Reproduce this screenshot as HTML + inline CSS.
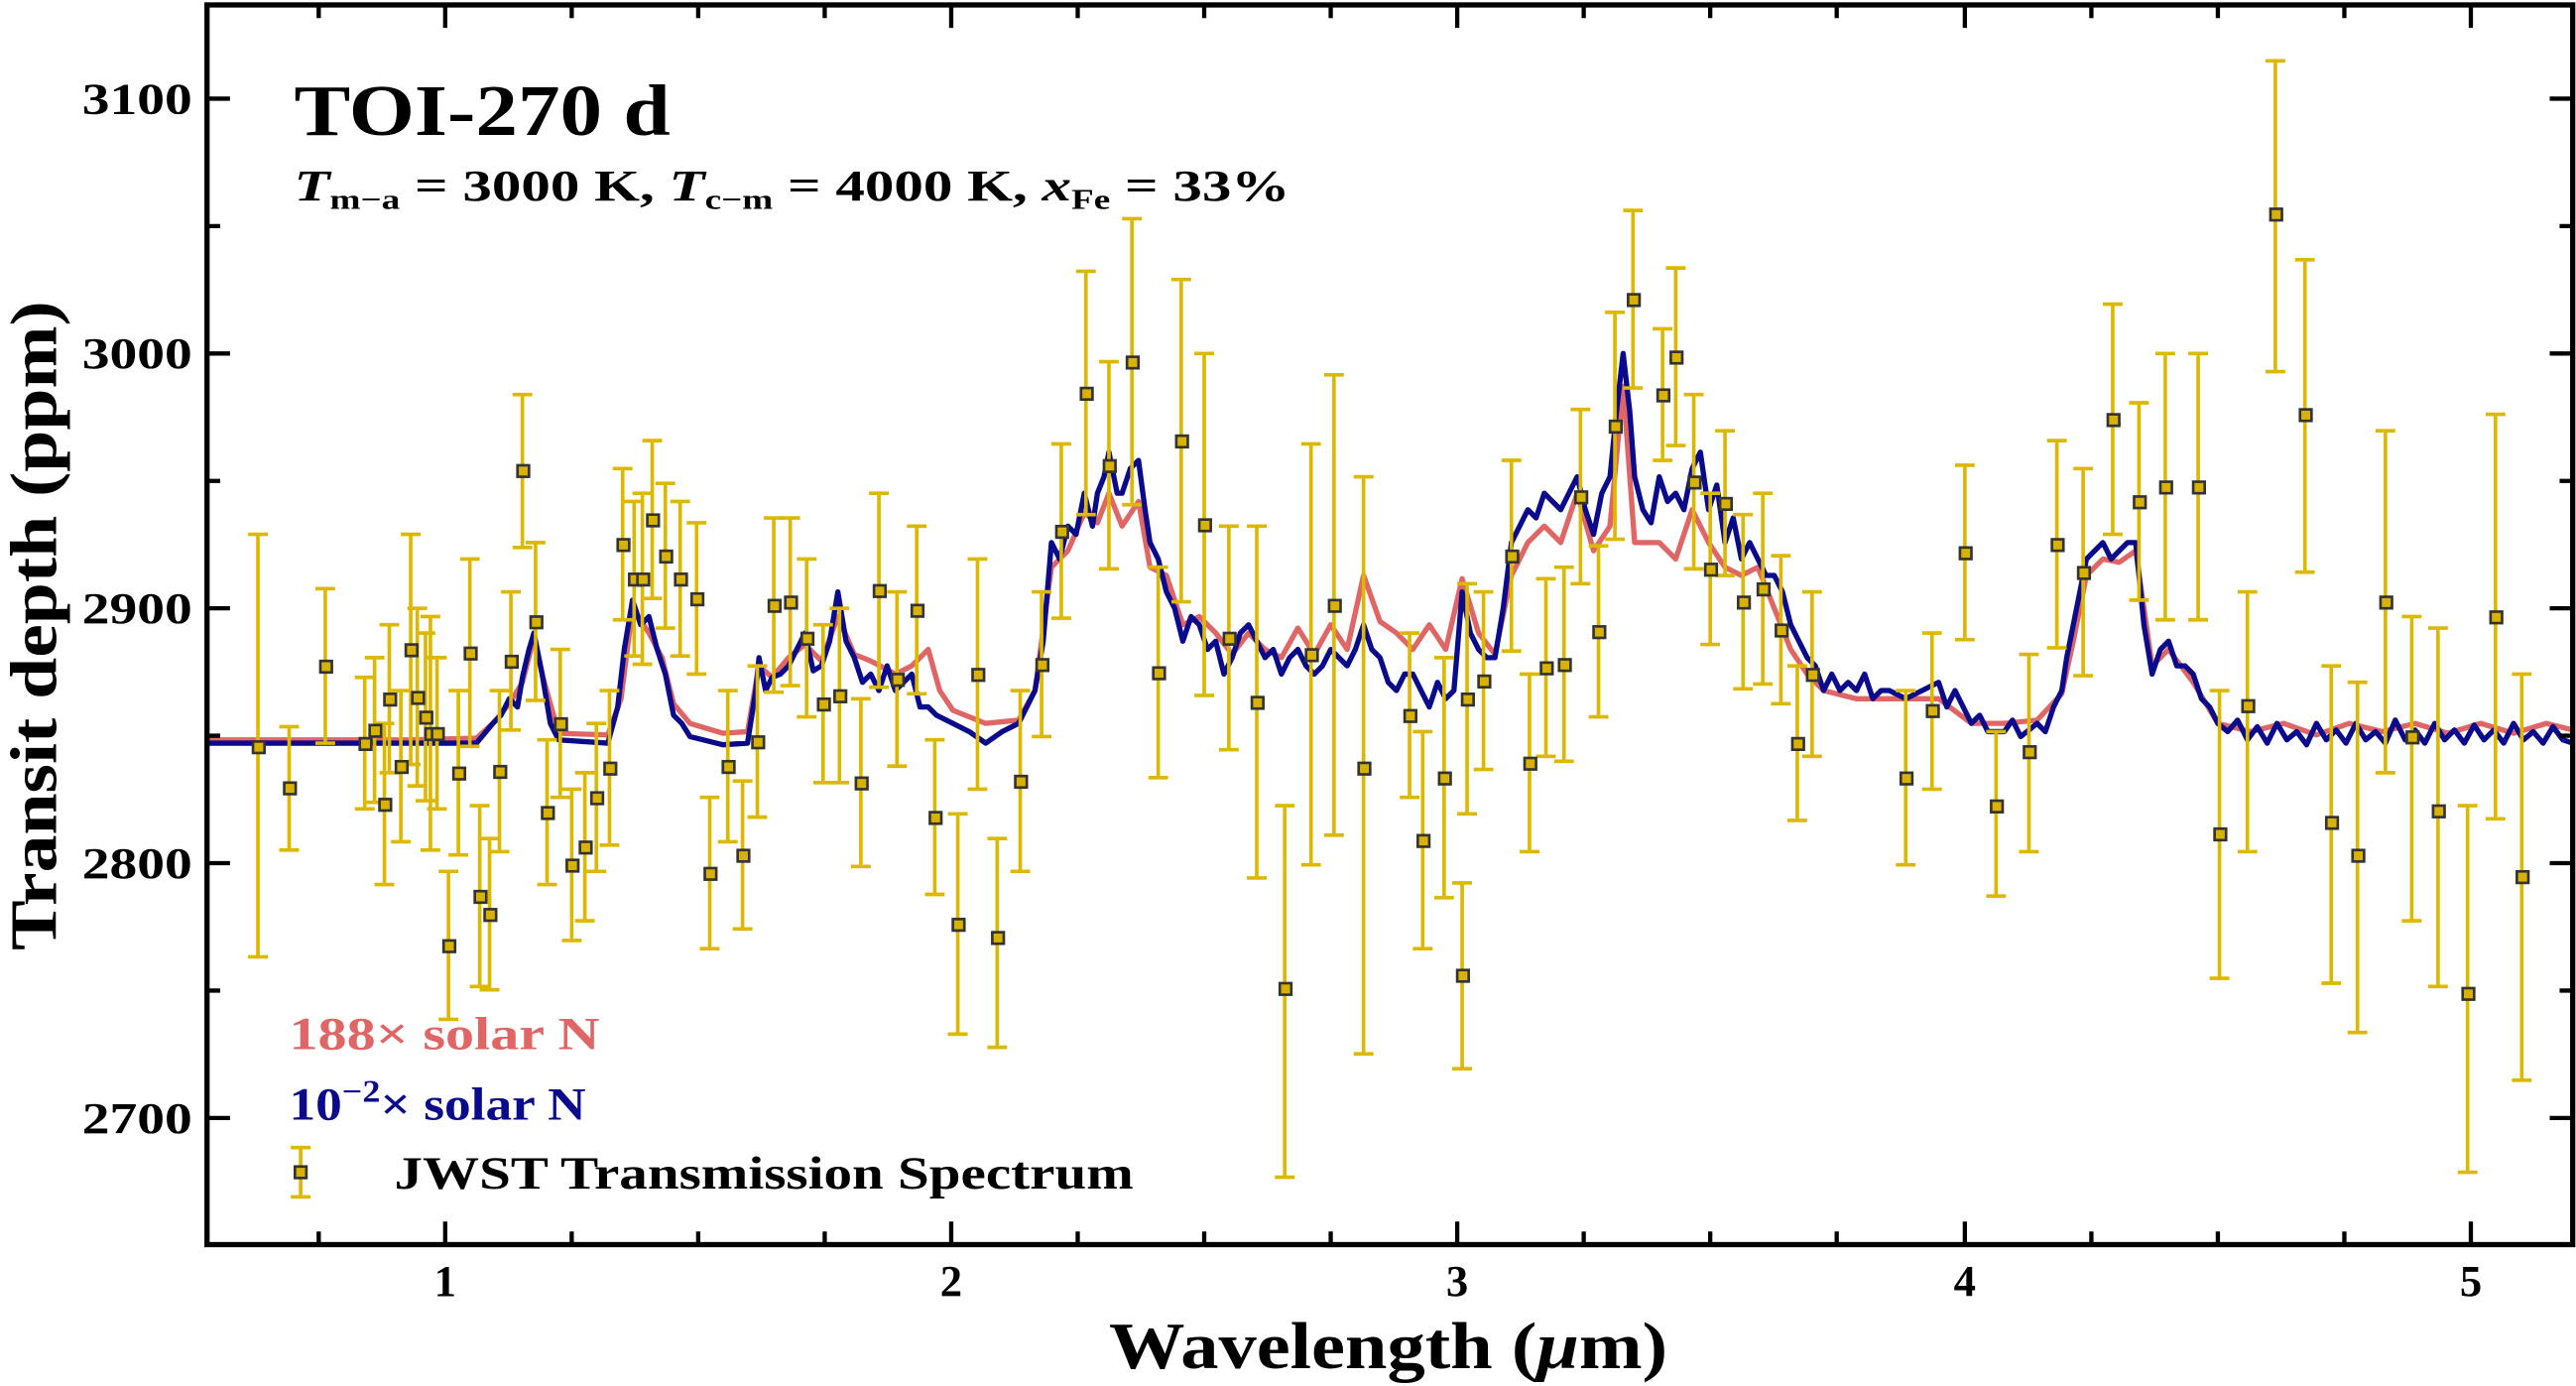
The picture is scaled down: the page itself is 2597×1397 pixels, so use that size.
<!DOCTYPE html>
<html><head><meta charset="utf-8"><style>html,body{margin:0;padding:0;background:#fff}svg{display:block}</style></head>
<body>
<svg xmlns="http://www.w3.org/2000/svg" width="2597" height="1397" viewBox="0 0 1568 843" preserveAspectRatio="none" font-family="'Liberation Serif', serif">
<rect width="1568" height="843" fill="#fff"/>
<polyline fill="none" stroke="#E06666" stroke-width="3.2" stroke-linejoin="round" points="126,450 250,450 290,449 300,440 310,428 318,415 325,388 330,410 340,446 370,447 378,425 385,370 395,385 403,400 410,428 420,440 440,446 455,445 462,405 470,412 480,400 490,392 500,402 510,375 520,398 530,402 545,410 555,405 565,395 572,420 580,432 600,440 620,438 630,420 640,345 650,335 660,312 668,318 675,300 683,320 693,305 700,345 710,350 720,380 730,375 740,385 750,398 760,385 770,395 780,400 790,382 800,398 810,380 820,395 830,350 840,378 850,385 860,395 870,380 880,395 890,352 900,385 910,398 920,350 930,330 940,320 950,330 960,300 970,335 980,320 988,235 995,330 1010,330 1020,340 1030,310 1040,330 1050,345 1060,350 1070,345 1080,370 1090,395 1100,410 1110,420 1130,425 1150,425 1180,425 1200,440 1220,440 1240,438 1255,422 1262,390 1270,350 1280,340 1290,342 1300,335 1310,405 1320,395 1335,415 1350,440 1370,445 1390,440 1410,447 1430,440 1450,445 1470,440 1490,446 1510,440 1530,446 1550,440 1566,444"/>
<polyline fill="none" stroke="#0A0A8C" stroke-width="3.2" stroke-linejoin="round" points="126,452 250,452 290,452 300,440 305,435 310,425 315,430 318,412 322,395 325,385 330,410 335,440 340,450 370,452 376,430 380,395 385,365 390,380 395,375 400,395 405,410 410,435 415,440 420,448 440,453 455,452 460,420 462,400 466,420 470,412 475,410 480,405 485,395 490,385 495,408 500,405 505,390 510,360 515,390 520,400 525,415 530,410 535,420 540,405 545,420 550,415 555,410 560,430 565,430 570,435 580,440 590,445 600,452 610,445 620,440 625,430 630,420 635,390 640,330 645,340 650,320 655,325 660,300 665,320 668,300 672,290 675,275 680,300 683,300 688,285 693,280 697,310 700,330 705,340 710,360 715,370 720,390 725,375 730,380 735,395 740,390 745,410 750,400 755,385 760,380 765,390 770,400 775,395 780,410 785,400 790,395 795,405 800,410 805,405 810,395 815,400 820,405 825,395 830,380 835,395 840,400 845,415 850,420 855,410 860,410 865,420 870,430 875,415 880,425 885,420 890,360 895,385 900,395 905,400 910,400 915,370 920,330 925,320 930,310 935,315 940,300 945,305 950,310 955,300 960,290 965,310 970,325 975,300 980,290 984,250 988,215 992,250 995,290 1000,310 1005,318 1010,290 1015,305 1020,300 1025,310 1030,285 1035,275 1040,310 1045,295 1050,330 1055,315 1060,340 1065,330 1070,340 1075,350 1080,350 1085,360 1090,380 1095,390 1100,400 1105,405 1110,420 1115,410 1120,420 1125,415 1130,420 1135,410 1140,425 1145,420 1150,420 1160,425 1170,420 1180,415 1185,430 1190,420 1200,440 1205,435 1210,445 1220,445 1225,438 1230,448 1240,440 1245,445 1250,430 1255,420 1258,400 1262,380 1266,360 1270,340 1275,335 1280,330 1285,340 1290,335 1295,330 1300,330 1305,380 1310,410 1315,395 1320,390 1325,405 1330,405 1335,410 1340,425 1345,430 1350,440 1356,445 1362,438 1368,450 1374,442 1380,452 1386,440 1392,450 1398,445 1404,453 1410,440 1416,450 1422,444 1428,452 1434,440 1440,450 1446,445 1452,452 1458,438 1464,450 1470,444 1476,452 1482,440 1488,450 1494,444 1500,452 1506,441 1512,450 1518,444 1524,452 1530,440 1536,450 1542,445 1548,452 1554,442 1560,450 1566,452"/>
<g stroke="#DDB800" stroke-width="2.2" fill="none">
<path d="M157 325V582M151 325h12M151 582h12"/>
<path d="M176 442V517M170 442h12M170 517h12"/>
<path d="M198 358V452M192 358h12M192 452h12"/>
<path d="M222 412V492M216 412h12M216 492h12"/>
<path d="M228 400V488M222 400h12M222 488h12"/>
<path d="M234 440V538M228 440h12M228 538h12"/>
<path d="M237 380V470M231 380h12M231 470h12"/>
<path d="M244 420V512M238 420h12M238 512h12"/>
<path d="M250 325V465M244 325h12M244 465h12"/>
<path d="M254 370V478M248 370h12M248 478h12"/>
<path d="M259 385V487M253 385h12M253 487h12"/>
<path d="M262 375V517M256 375h12M256 517h12"/>
<path d="M266 400V492M260 400h12M260 492h12"/>
<path d="M273 530V620M267 530h12M267 620h12"/>
<path d="M279 420V520M273 420h12M273 520h12"/>
<path d="M286 340V454M280 340h12M280 454h12"/>
<path d="M292 490V600M286 490h12M286 600h12"/>
<path d="M298 510V602M292 510h12M292 602h12"/>
<path d="M304 420V518M298 420h12M298 518h12"/>
<path d="M311 360V444M305 360h12M305 444h12"/>
<path d="M318 240V333M312 240h12M312 333h12"/>
<path d="M326 330V426M320 330h12M320 426h12"/>
<path d="M333 450V538M327 450h12M327 538h12"/>
<path d="M341 395V485M335 395h12M335 485h12"/>
<path d="M348 480V572M342 480h12M342 572h12"/>
<path d="M356 470V560M350 470h12M350 560h12"/>
<path d="M363 440V530M357 440h12M357 530h12"/>
<path d="M371 420V514M365 420h12M365 514h12"/>
<path d="M379 285V377M373 285h12M373 377h12"/>
<path d="M386 305V399M380 305h12M380 399h12"/>
<path d="M391 300V404M385 300h12M385 404h12"/>
<path d="M397 268V364M391 268h12M391 364h12"/>
<path d="M405 294V382M399 294h12M399 382h12"/>
<path d="M414 305V399M408 305h12M408 399h12"/>
<path d="M424 318V410M418 318h12M418 410h12"/>
<path d="M432 485V577M426 485h12M426 577h12"/>
<path d="M443 420V512M437 420h12M437 512h12"/>
<path d="M452 475V565M446 475h12M446 565h12"/>
<path d="M461 405V497M455 405h12M455 497h12"/>
<path d="M471 315V421M465 315h12M465 421h12"/>
<path d="M481 315V417M475 315h12M475 417h12"/>
<path d="M491 340V436M485 340h12M485 436h12"/>
<path d="M501 380V476M495 380h12M495 476h12"/>
<path d="M511 370V476M505 370h12M505 476h12"/>
<path d="M524 425V527M518 425h12M518 527h12"/>
<path d="M535 300V418M529 300h12M529 418h12"/>
<path d="M546 360V466M540 360h12M540 466h12"/>
<path d="M558 320V422M552 320h12M552 422h12"/>
<path d="M569 450V544M563 450h12M563 544h12"/>
<path d="M583 495V629M577 495h12M577 629h12"/>
<path d="M595 340V480M589 340h12M589 480h12"/>
<path d="M607 510V637M601 510h12M601 637h12"/>
<path d="M621 420V530M615 420h12M615 530h12"/>
<path d="M634 360V448M628 360h12M628 448h12"/>
<path d="M646 270V376M640 270h12M640 376h12"/>
<path d="M661 165V313M655 165h12M655 313h12"/>
<path d="M675 220V346M669 220h12M669 346h12"/>
<path d="M689 133V307M683 133h12M683 307h12"/>
<path d="M705 345V473M699 345h12M699 473h12"/>
<path d="M719 170V366M713 170h12M713 366h12"/>
<path d="M733 215V423M727 215h12M727 423h12"/>
<path d="M748 320V456M742 320h12M742 456h12"/>
<path d="M765 320V534M759 320h12M759 534h12"/>
<path d="M782 490V716M776 490h12M776 716h12"/>
<path d="M798 270V526M792 270h12M792 526h12"/>
<path d="M812 228V508M806 228h12M806 508h12"/>
<path d="M830 290V641M824 290h12M824 641h12"/>
<path d="M858 385V485M852 385h12M852 485h12"/>
<path d="M866 445V577M860 445h12M860 577h12"/>
<path d="M879 400V546M873 400h12M873 546h12"/>
<path d="M890 537V650M884 537h12M884 650h12"/>
<path d="M893 355V495M887 355h12M887 495h12"/>
<path d="M903 360V468M897 360h12M897 468h12"/>
<path d="M920 280V396M914 280h12M914 396h12"/>
<path d="M931 410V518M925 410h12M925 518h12"/>
<path d="M941 352V460M935 352h12M935 460h12"/>
<path d="M952 345V463M946 345h12M946 463h12"/>
<path d="M962 249V355M956 249h12M956 355h12"/>
<path d="M973 332V436M967 332h12M967 436h12"/>
<path d="M983 190V328M977 190h12M977 328h12"/>
<path d="M994 128V236M988 128h12M988 236h12"/>
<path d="M1012 200V280M1006 200h12M1006 280h12"/>
<path d="M1020 163V271M1014 163h12M1014 271h12"/>
<path d="M1031 240V346M1025 240h12M1025 346h12"/>
<path d="M1041 300V392M1035 300h12M1035 392h12"/>
<path d="M1050 262V350M1044 262h12M1044 350h12"/>
<path d="M1061 313V419M1055 313h12M1055 419h12"/>
<path d="M1073 300V416M1067 300h12M1067 416h12"/>
<path d="M1084 338V428M1078 338h12M1078 428h12"/>
<path d="M1094 405V499M1088 405h12M1088 499h12"/>
<path d="M1103 360V460M1097 360h12M1097 460h12"/>
<path d="M1160 420V526M1154 420h12M1154 526h12"/>
<path d="M1176 385V480M1170 385h12M1170 480h12"/>
<path d="M1196 283V389M1190 283h12M1190 389h12"/>
<path d="M1215 445V545M1209 445h12M1209 545h12"/>
<path d="M1235 398V518M1229 398h12M1229 518h12"/>
<path d="M1252 268V394M1246 268h12M1246 394h12"/>
<path d="M1268 285V411M1262 285h12M1262 411h12"/>
<path d="M1286 185V325M1280 185h12M1280 325h12"/>
<path d="M1302 245V365M1296 245h12M1296 365h12"/>
<path d="M1318 215V377M1312 215h12M1312 377h12"/>
<path d="M1338 215V377M1332 215h12M1332 377h12"/>
<path d="M1351 420V595M1345 420h12M1345 595h12"/>
<path d="M1368 360V518M1362 360h12M1362 518h12"/>
<path d="M1385 37V226M1379 37h12M1379 226h12"/>
<path d="M1403 158V348M1397 158h12M1397 348h12"/>
<path d="M1419 405V598M1413 405h12M1413 598h12"/>
<path d="M1435 415V628M1429 415h12M1429 628h12"/>
<path d="M1452 262V470M1446 262h12M1446 470h12"/>
<path d="M1468 375V560M1462 375h12M1462 560h12"/>
<path d="M1484 382V600M1478 382h12M1478 600h12"/>
<path d="M1502 490V713M1496 490h12M1496 713h12"/>
<path d="M1519 252V498M1513 252h12M1513 498h12"/>
<path d="M1535 410V657M1529 410h12M1529 657h12"/>
</g>
<g fill="#D9B100" stroke="#333" stroke-width="1.6">
<rect x="154" y="451" width="7" height="7"/><rect x="173" y="476" width="7" height="7"/><rect x="195" y="402" width="7" height="7"/><rect x="219" y="449" width="7" height="7"/><rect x="225" y="441" width="7" height="7"/><rect x="231" y="486" width="7" height="7"/><rect x="234" y="422" width="7" height="7"/><rect x="241" y="463" width="7" height="7"/><rect x="247" y="392" width="7" height="7"/><rect x="251" y="421" width="7" height="7"/><rect x="256" y="433" width="7" height="7"/><rect x="259" y="443" width="7" height="7"/><rect x="263" y="443" width="7" height="7"/><rect x="270" y="572" width="7" height="7"/><rect x="276" y="467" width="7" height="7"/><rect x="283" y="394" width="7" height="7"/><rect x="289" y="542" width="7" height="7"/><rect x="295" y="553" width="7" height="7"/><rect x="301" y="466" width="7" height="7"/><rect x="308" y="399" width="7" height="7"/><rect x="315" y="283" width="7" height="7"/><rect x="323" y="375" width="7" height="7"/><rect x="330" y="491" width="7" height="7"/><rect x="338" y="437" width="7" height="7"/><rect x="345" y="523" width="7" height="7"/><rect x="353" y="512" width="7" height="7"/><rect x="360" y="482" width="7" height="7"/><rect x="368" y="464" width="7" height="7"/><rect x="376" y="328" width="7" height="7"/><rect x="383" y="349" width="7" height="7"/><rect x="388" y="349" width="7" height="7"/><rect x="394" y="313" width="7" height="7"/><rect x="402" y="335" width="7" height="7"/><rect x="411" y="349" width="7" height="7"/><rect x="421" y="361" width="7" height="7"/><rect x="429" y="528" width="7" height="7"/><rect x="440" y="463" width="7" height="7"/><rect x="449" y="517" width="7" height="7"/><rect x="458" y="448" width="7" height="7"/><rect x="468" y="365" width="7" height="7"/><rect x="478" y="363" width="7" height="7"/><rect x="488" y="385" width="7" height="7"/><rect x="498" y="425" width="7" height="7"/><rect x="508" y="420" width="7" height="7"/><rect x="521" y="473" width="7" height="7"/><rect x="532" y="356" width="7" height="7"/><rect x="543" y="410" width="7" height="7"/><rect x="555" y="368" width="7" height="7"/><rect x="566" y="494" width="7" height="7"/><rect x="580" y="559" width="7" height="7"/><rect x="592" y="407" width="7" height="7"/><rect x="604" y="567" width="7" height="7"/><rect x="618" y="472" width="7" height="7"/><rect x="631" y="401" width="7" height="7"/><rect x="643" y="320" width="7" height="7"/><rect x="658" y="236" width="7" height="7"/><rect x="672" y="280" width="7" height="7"/><rect x="686" y="217" width="7" height="7"/><rect x="702" y="406" width="7" height="7"/><rect x="716" y="265" width="7" height="7"/><rect x="730" y="316" width="7" height="7"/><rect x="745" y="385" width="7" height="7"/><rect x="762" y="424" width="7" height="7"/><rect x="779" y="598" width="7" height="7"/><rect x="795" y="395" width="7" height="7"/><rect x="809" y="365" width="7" height="7"/><rect x="827" y="464" width="7" height="7"/><rect x="855" y="432" width="7" height="7"/><rect x="863" y="508" width="7" height="7"/><rect x="876" y="470" width="7" height="7"/><rect x="887" y="590" width="7" height="7"/><rect x="890" y="422" width="7" height="7"/><rect x="900" y="411" width="7" height="7"/><rect x="917" y="335" width="7" height="7"/><rect x="928" y="461" width="7" height="7"/><rect x="938" y="403" width="7" height="7"/><rect x="949" y="401" width="7" height="7"/><rect x="959" y="299" width="7" height="7"/><rect x="970" y="381" width="7" height="7"/><rect x="980" y="256" width="7" height="7"/><rect x="991" y="179" width="7" height="7"/><rect x="1009" y="237" width="7" height="7"/><rect x="1017" y="214" width="7" height="7"/><rect x="1028" y="290" width="7" height="7"/><rect x="1038" y="343" width="7" height="7"/><rect x="1047" y="303" width="7" height="7"/><rect x="1058" y="363" width="7" height="7"/><rect x="1070" y="355" width="7" height="7"/><rect x="1081" y="380" width="7" height="7"/><rect x="1091" y="449" width="7" height="7"/><rect x="1100" y="407" width="7" height="7"/><rect x="1157" y="470" width="7" height="7"/><rect x="1173" y="429" width="7" height="7"/><rect x="1193" y="333" width="7" height="7"/><rect x="1212" y="487" width="7" height="7"/><rect x="1232" y="454" width="7" height="7"/><rect x="1249" y="328" width="7" height="7"/><rect x="1265" y="345" width="7" height="7"/><rect x="1283" y="252" width="7" height="7"/><rect x="1299" y="302" width="7" height="7"/><rect x="1315" y="293" width="7" height="7"/><rect x="1335" y="293" width="7" height="7"/><rect x="1348" y="504" width="7" height="7"/><rect x="1365" y="426" width="7" height="7"/><rect x="1382" y="127" width="7" height="7"/><rect x="1400" y="249" width="7" height="7"/><rect x="1416" y="497" width="7" height="7"/><rect x="1432" y="517" width="7" height="7"/><rect x="1449" y="363" width="7" height="7"/><rect x="1465" y="445" width="7" height="7"/><rect x="1481" y="490" width="7" height="7"/><rect x="1499" y="601" width="7" height="7"/><rect x="1516" y="372" width="7" height="7"/><rect x="1532" y="530" width="7" height="7"/>
</g>
<rect x="126" y="3" width="1440" height="754" fill="none" stroke="#000" stroke-width="3.2"/>
<g stroke="#000" stroke-width="2.6">
<path d="M126 60h14M126 215h14M126 370h14M126 525h14M126 680h14M1566 60h-14M1566 215h-14M1566 370h-14M1566 525h-14M1566 680h-14"/>
<path d="M126 137.5h8M126 292.5h8M126 447.5h8M126 602.5h8M1566 137.5h-8M1566 292.5h-8M1566 447.5h-8M1566 602.5h-8"/>
<path d="M271 757v-14M579 757v-14M887 757v-14M1196 757v-14M1504 757v-14M271 3v14M579 3v14M887 3v14M1196 3v14M1504 3v14"/>
<path d="M194 757v-8M348 757v-8M425 757v-8M502 757v-8M656 757v-8M733 757v-8M810 757v-8M964 757v-8M1041 757v-8M1118 757v-8M1273 757v-8M1350 757v-8M1427 757v-8M194 3v8M348 3v8M425 3v8M502 3v8M656 3v8M733 3v8M810 3v8M964 3v8M1041 3v8M1118 3v8M1273 3v8M1350 3v8M1427 3v8"/>
</g>
<g font-size="27" font-weight="bold" fill="#000">
<text x="50" y="69" textLength="67" lengthAdjust="spacingAndGlyphs">3100</text>
<text x="50" y="224" textLength="67" lengthAdjust="spacingAndGlyphs">3000</text>
<text x="50" y="379" textLength="67" lengthAdjust="spacingAndGlyphs">2900</text>
<text x="50" y="534" textLength="67" lengthAdjust="spacingAndGlyphs">2800</text>
<text x="50" y="689" textLength="67" lengthAdjust="spacingAndGlyphs">2700</text>
<g text-anchor="middle"><text x="271" y="788">1</text><text x="579" y="788">2</text><text x="887" y="788">3</text><text x="1196" y="788">4</text><text x="1504" y="788">5</text></g>
</g>
<text x="675" y="832" font-size="40" font-weight="bold" textLength="340" lengthAdjust="spacingAndGlyphs">Wavelength (<tspan font-style="italic">μ</tspan>m)</text>
<text transform="translate(34,578) rotate(-90)" font-size="40" font-weight="bold" textLength="395" lengthAdjust="spacingAndGlyphs">Transit depth (ppm)</text>
<text x="179" y="82" font-size="44" font-weight="bold" textLength="229" lengthAdjust="spacingAndGlyphs">TOI-270 d</text>
<g transform="translate(179,122) scale(1.32,1)">
<text x="0" y="0" font-size="27" font-weight="bold"><tspan font-style="italic">T</tspan><tspan font-size="17" dy="5">m−a</tspan><tspan dy="-5"> = 3000 K, </tspan><tspan font-style="italic">T</tspan><tspan font-size="17" dy="5">c−m</tspan><tspan dy="-5"> = 4000 K, </tspan><tspan font-style="italic">x</tspan><tspan font-size="17" dy="5">Fe</tspan><tspan dy="-5"> = 33%</tspan></text>
</g>
<text x="176" y="638" font-size="28" font-weight="bold" fill="#E06666" textLength="189" lengthAdjust="spacingAndGlyphs">188× solar N</text>
<g transform="translate(176,681) scale(1.15,1)">
<text x="0" y="0" font-size="28" font-weight="bold" fill="#0A0A8C">10<tspan font-size="19" dy="-11">−2</tspan><tspan dy="11">× solar N</tspan></text>
</g>
<path d="M183 698V728M177 698h12M177 728h12" stroke="#DDB800" stroke-width="2.2"/>
<rect x="179.5" y="709.5" width="7" height="7" fill="#D9B100" stroke="#333" stroke-width="1.6"/>
<text x="240" y="723" font-size="28" font-weight="bold" textLength="450" lengthAdjust="spacingAndGlyphs">JWST Transmission Spectrum</text>
</svg>
</body></html>
